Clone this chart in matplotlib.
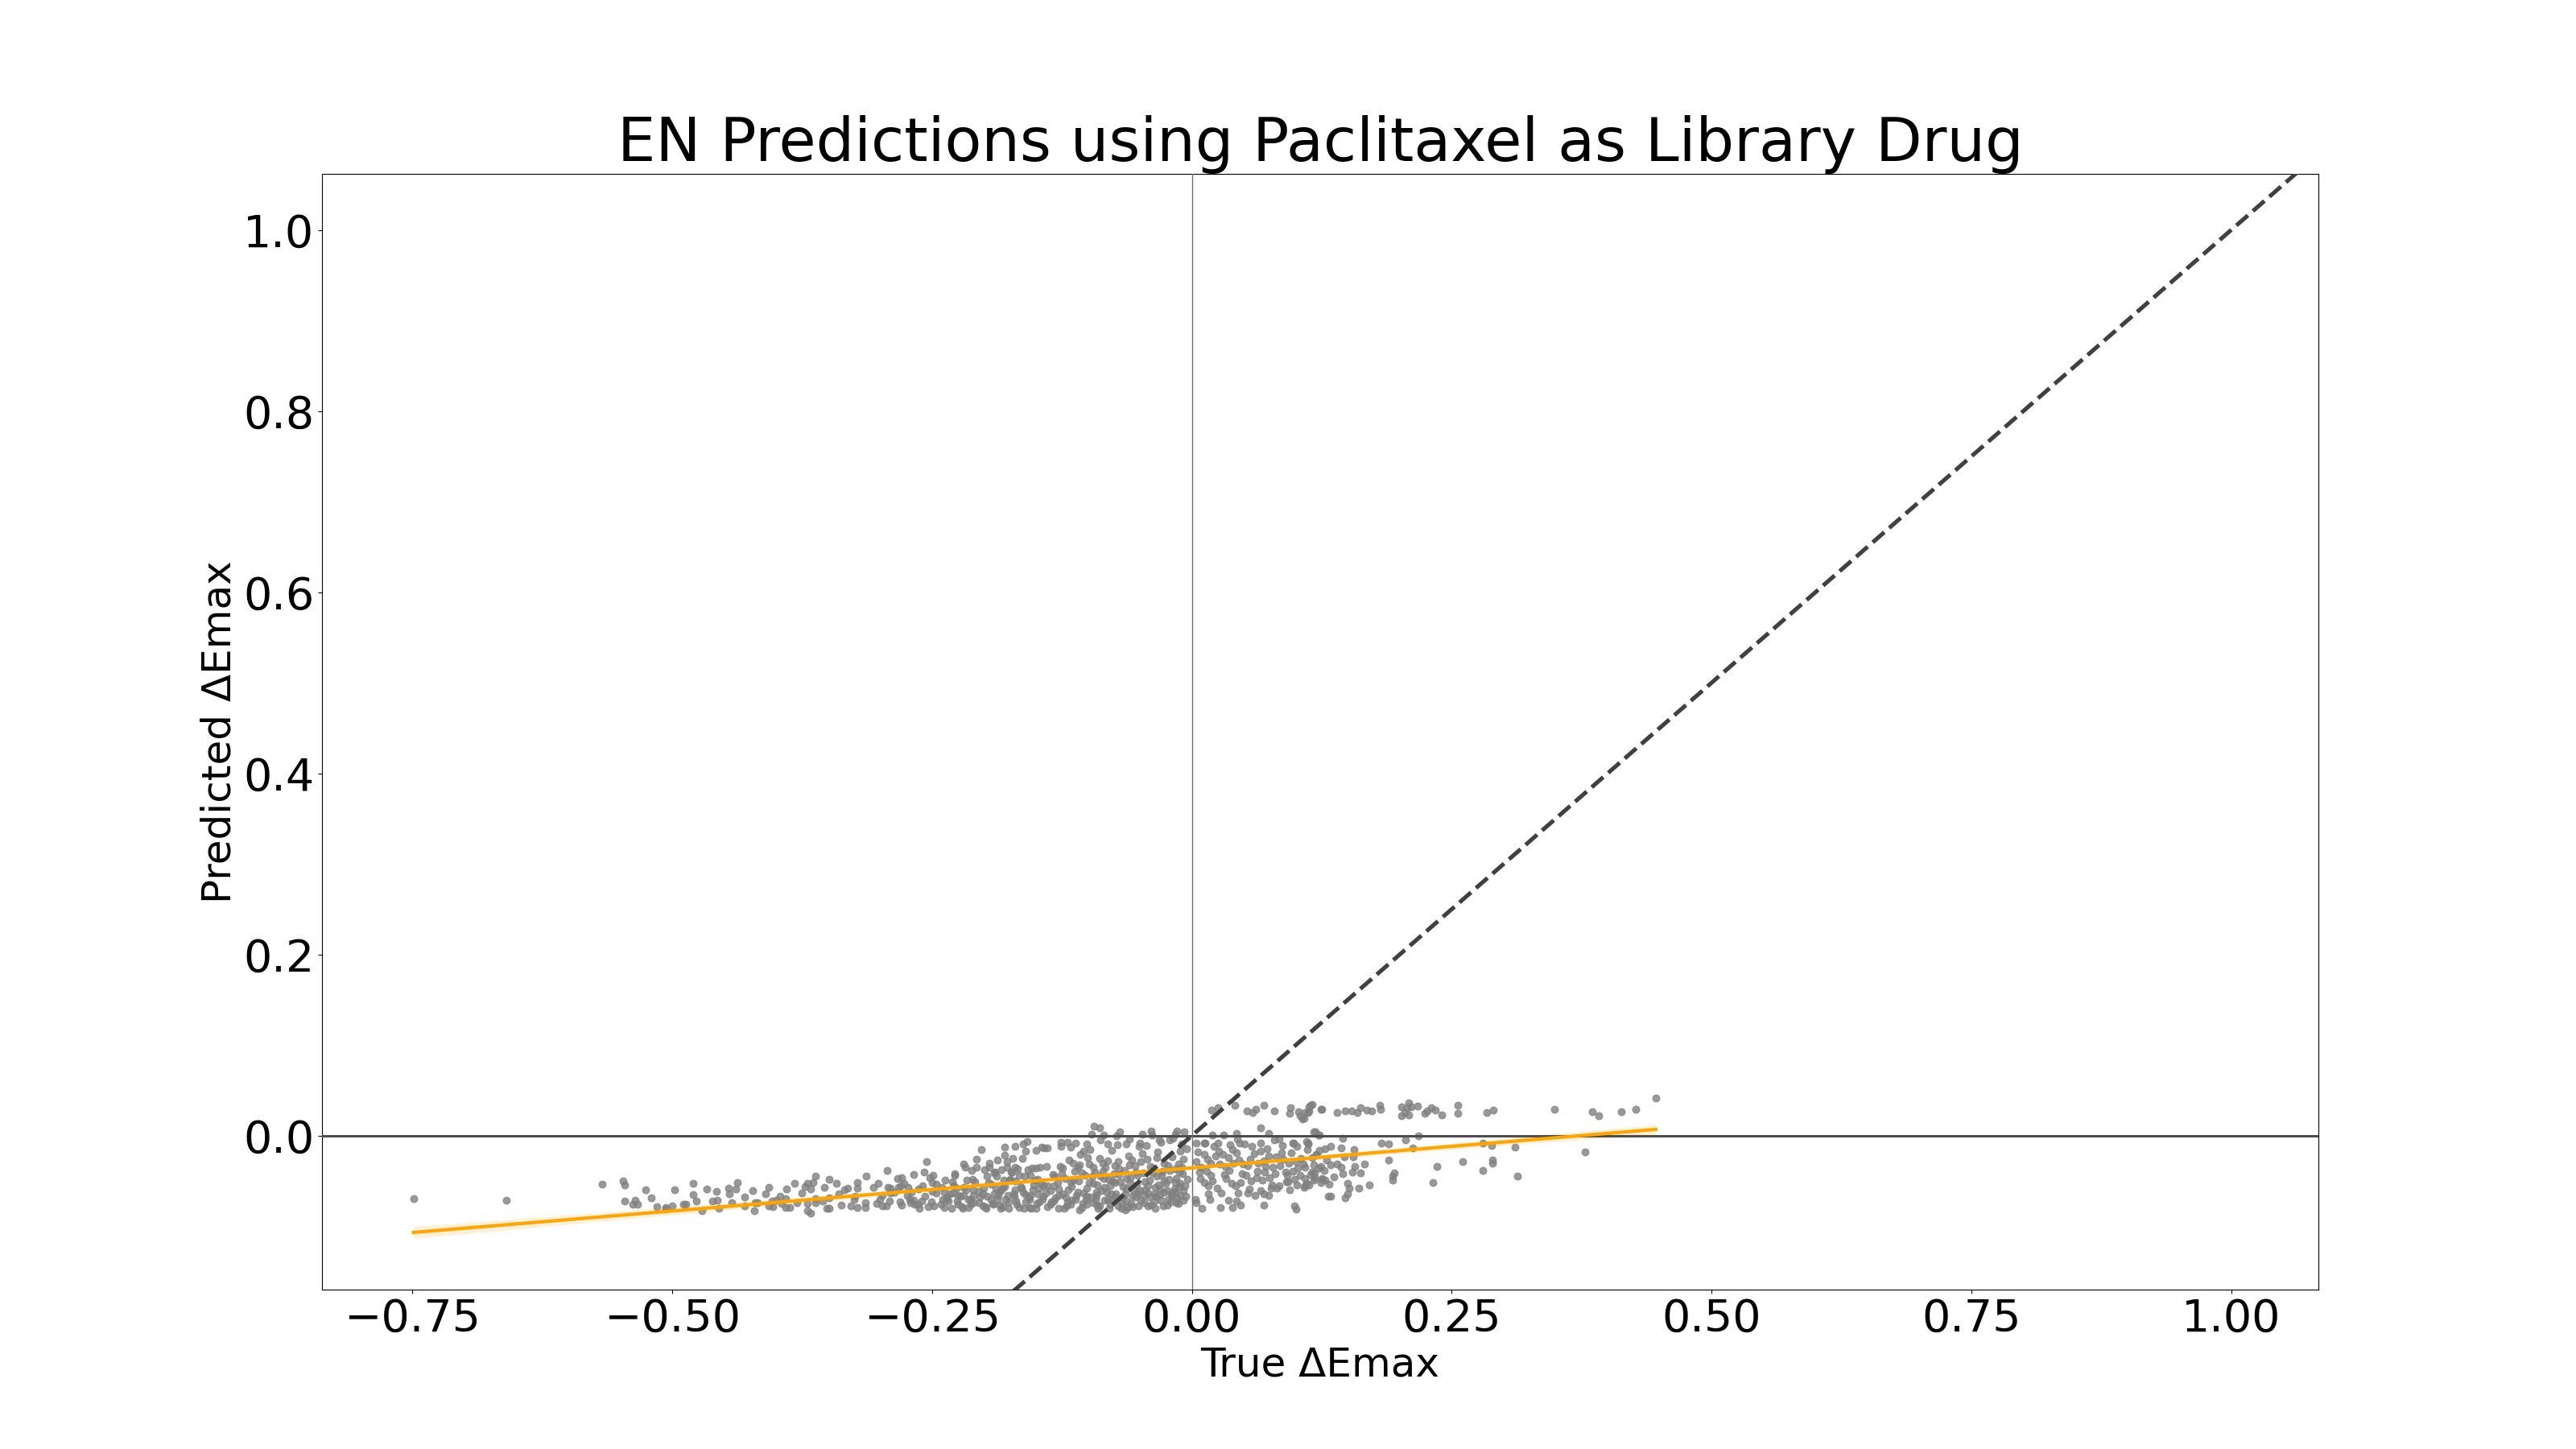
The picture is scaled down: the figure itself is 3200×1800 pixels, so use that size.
import numpy as np
import matplotlib
matplotlib.use("Agg")
import matplotlib.pyplot as plt

# ---------------- data (True ΔEmax, Predicted ΔEmax) ----------------
left_tail = [
    (-0.749, -0.0696), (-0.660, -0.0714), (-0.5675, -0.0536), (-0.5475, -0.0498),
    (-0.546, -0.0548), (-0.546, -0.0726), (-0.538, -0.0756), (-0.5354, -0.0717),
    (-0.533, -0.0762), (-0.5257, -0.0598), (-0.5146, -0.0788), (-0.5063, -0.0797),
    (-0.506, -0.0815), (-0.500, -0.0776), (-0.4977, -0.0598), (-0.489, -0.0756),
    (-0.487, -0.0762), (-0.480, -0.0524), (-0.477, -0.0726), (-0.4717, -0.0830),
    (-0.4665, -0.0590), (-0.461, -0.0726), (-0.4575, -0.0619), (-0.457, -0.0711),
    (-0.446, -0.0576), (-0.445, -0.0643), (-0.443, -0.0738), (-0.439, -0.0593),
    (-0.437, -0.0516), (-0.430, -0.0779), (-0.4226, -0.0607), (-0.421, -0.0830),
    (-0.420, -0.0738), (-0.418, -0.0738), (-0.407, -0.0573), (-0.407, -0.0779),
    (-0.4043, -0.0726), (-0.403, -0.0785), (-0.400, -0.0717), (-0.396, -0.0667),
    (-0.391, -0.0696), (-0.391, -0.0794), (-0.390, -0.0590), (-0.387, -0.0794),
    (-0.3826, -0.0524), (-0.380, -0.0738), (-0.3722, -0.0564), (-0.370, -0.0530),
    (-0.370, -0.0753), (-0.370, -0.0830), (-0.367, -0.0856), (-0.367, -0.0593),
    (-0.3645, -0.0516), (-0.3625, -0.0445), (-0.362, -0.0696), (-0.362, -0.0738),
    (-0.354, -0.0573), (-0.3514, -0.0806), (-0.349, -0.0481), (-0.349, -0.0806),
    (-0.349, -0.0690), (-0.342, -0.0524), (-0.337, -0.0767), (-0.334, -0.0598),
    (-0.331, -0.0578), (-0.328, -0.0773), (-0.324, -0.0667), (-0.322, -0.0516),
    (-0.322, -0.0584), (-0.322, -0.0797), (-0.314, -0.0741), (-0.314, -0.0797),
    (-0.313, -0.0445),
    (-0.520, -0.0690), (-0.480, -0.0650), (-0.455, -0.0800), (-0.430, -0.0680),
    (-0.410, -0.0640), (-0.395, -0.0750), (-0.375, -0.0630), (-0.355, -0.0720),
    (-0.340, -0.0640), (-0.325, -0.0700),
]

mid_band = [
    (-0.3067, -0.0569), (-0.3034, -0.0747), (-0.3016, -0.0524), (-0.3003, -0.0702),
    (-0.2977, -0.0776), (-0.2939, -0.0776), (-0.2933, -0.0382), (-0.2926, -0.0569),
    (-0.2900, -0.0584), (-0.2835, -0.0471), (-0.2822, -0.0569), (-0.2810, -0.0732),
    (-0.2796, -0.0465), (-0.2770, -0.0524), (-0.2732, -0.0569), (-0.2719, -0.0702),
    (-0.2706, -0.0738), (-0.2675, -0.0427), (-0.2667, -0.0762), (-0.2641, -0.0762),
    (-0.2628, -0.0590), (-0.2590, -0.0554), (-0.2577, -0.0406), (-0.2551, -0.0287),
    (-0.2538, -0.0785), (-0.2525, -0.0465), (-0.2500, -0.0613), (-0.2492, -0.0436),
    (-0.2486, -0.0776), (-0.2460, -0.0539), (-0.2409, -0.0569), (-0.2383, -0.0791),
    (-0.2371, -0.0495), (-0.2357, -0.0702), (-0.2332, -0.0643), (-0.2306, -0.0510),
    (-0.2280, -0.0436), (-0.2267, -0.0584), (-0.2254, -0.0762), (-0.2229, -0.0673),
    (-0.2203, -0.0806), (-0.2198, -0.0317), (-0.2183, -0.0347), (-0.2164, -0.0495),
    (-0.2151, -0.0702), (-0.2126, -0.0762), (-0.2113, -0.0480), (-0.2100, -0.0599),
    (-0.2074, -0.0258), (-0.2074, -0.0347), (-0.2049, -0.0613), (-0.2023, -0.0154),
    (-0.2010, -0.0776), (-0.1997, -0.0376), (-0.1972, -0.0673), (-0.1946, -0.0347),
    (-0.1933, -0.0539), (-0.1907, -0.0762), (-0.1894, -0.0406), (-0.1882, -0.0450),
    (-0.1869, -0.0273), (-0.1856, -0.0628), (-0.1843, -0.0806), (-0.1830, -0.0376),
    (-0.1817, -0.0569), (-0.1804, -0.0213), (-0.1799, -0.0124), (-0.1792, -0.0702),
    (-0.1779, -0.0347), (-0.1766, -0.0806), (-0.1753, -0.0495), (-0.1740, -0.0406),
    (-0.1727, -0.0252), (-0.1715, -0.0643), (-0.1702, -0.0347), (-0.1697, -0.0115),
    (-0.1689, -0.0762), (-0.1663, -0.0436), (-0.1638, -0.0584), (-0.1625, -0.0095),
    (-0.1612, -0.0806), (-0.1599, -0.0175), (-0.1587, -0.0065), (-0.1574, -0.0376),
    (-0.1561, -0.0702), (-0.1548, -0.0806), (-0.1535, -0.0361), (-0.1509, -0.0495),
    (-0.1496, -0.0164), (-0.1483, -0.0643), (-0.1470, -0.0732), (-0.1458, -0.0347),
    (-0.1445, -0.0124), (-0.1432, -0.0554), (-0.1419, -0.0139),
]

mid_dense = [
    (-0.238, -0.062), (-0.234, -0.072), (-0.229, -0.055), (-0.225, -0.066),
    (-0.221, -0.078), (-0.217, -0.060), (-0.213, -0.070), (-0.209, -0.051),
    (-0.205, -0.074), (-0.201, -0.064), (-0.197, -0.045), (-0.193, -0.070),
    (-0.189, -0.058), (-0.185, -0.077), (-0.181, -0.049), (-0.177, -0.066),
    (-0.173, -0.040), (-0.169, -0.072), (-0.165, -0.056), (-0.161, -0.045),
    (-0.157, -0.068), (-0.153, -0.060), (-0.149, -0.075), (-0.145, -0.052),
    (-0.141, -0.063), (-0.228, -0.042), (-0.212, -0.038), (-0.195, -0.030),
    (-0.178, -0.029), (-0.163, -0.025), (-0.150, -0.036), (-0.186, -0.066),
    (-0.170, -0.060), (-0.156, -0.079), (-0.199, -0.078),
    (-0.290, -0.063), (-0.280, -0.055), (-0.270, -0.062), (-0.260, -0.072),
    (-0.250, -0.052), (-0.240, -0.070), (-0.230, -0.063), (-0.220, -0.057),
    (-0.210, -0.066), (-0.200, -0.058), (-0.190, -0.064), (-0.180, -0.056),
    (-0.170, -0.050), (-0.160, -0.065), (-0.152, -0.054),
]

core_floor = [
    (-0.298, -0.066), (-0.291, -0.072), (-0.286, -0.062), (-0.279, -0.077),
    (-0.274, -0.066), (-0.268, -0.071), (-0.262, -0.080), (-0.257, -0.067),
    (-0.251, -0.073), (-0.246, -0.063), (-0.241, -0.076), (-0.236, -0.068),
    (-0.231, -0.080), (-0.226, -0.072), (-0.220, -0.066), (-0.215, -0.079),
    (-0.210, -0.074), (-0.204, -0.068), (-0.198, -0.080), (-0.192, -0.075),
    (-0.187, -0.070), (-0.182, -0.078), (-0.176, -0.073), (-0.171, -0.067),
    (-0.166, -0.079), (-0.160, -0.073), (-0.155, -0.066), (-0.150, -0.080),
    (-0.144, -0.070), (-0.139, -0.078), (-0.133, -0.072), (-0.128, -0.066),
    (-0.123, -0.080), (-0.117, -0.076), (-0.112, -0.070), (-0.106, -0.079),
    (-0.101, -0.067), (-0.095, -0.074), (-0.090, -0.080), (-0.084, -0.071),
    (-0.079, -0.076), (-0.074, -0.068), (-0.068, -0.080), (-0.063, -0.072),
    (-0.057, -0.078), (-0.052, -0.063), (-0.046, -0.074), (-0.041, -0.068),
    (-0.035, -0.080), (-0.030, -0.071), (-0.024, -0.077), (-0.019, -0.066),
    (-0.013, -0.075), (-0.008, -0.071),
]

core_mid = [
    (-0.196, -0.052), (-0.190, -0.041), (-0.183, -0.060), (-0.175, -0.048),
    (-0.168, -0.037), (-0.162, -0.062), (-0.155, -0.044), (-0.147, -0.058),
    (-0.140, -0.034), (-0.133, -0.055), (-0.125, -0.042), (-0.119, -0.060),
    (-0.114, -0.049), (-0.108, -0.032), (-0.104, -0.063), (-0.096, -0.045),
    (-0.091, -0.054), (-0.086, -0.039), (-0.082, -0.062), (-0.076, -0.050),
    (-0.070, -0.043), (-0.064, -0.064), (-0.059, -0.053), (-0.054, -0.040),
    (-0.050, -0.061), (-0.045, -0.051), (-0.040, -0.034), (-0.036, -0.064),
    (-0.032, -0.054), (-0.028, -0.039), (-0.022, -0.048), (-0.016, -0.037),
    (-0.012, -0.056),
    (-0.148, -0.048), (-0.143, -0.067), (-0.139, -0.055), (-0.135, -0.073),
    (-0.132, -0.045), (-0.128, -0.059), (-0.124, -0.036), (-0.121, -0.068),
    (-0.117, -0.051), (-0.114, -0.030), (-0.110, -0.062), (-0.106, -0.041),
    (-0.102, -0.070), (-0.099, -0.052), (-0.095, -0.035), (-0.092, -0.066),
    (-0.088, -0.045), (-0.084, -0.057), (-0.081, -0.028), (-0.078, -0.064),
    (-0.074, -0.052), (-0.070, -0.037), (-0.067, -0.068), (-0.063, -0.047),
    (-0.060, -0.032), (-0.056, -0.061), (-0.052, -0.044), (-0.049, -0.029),
    (-0.046, -0.066), (-0.042, -0.055), (-0.038, -0.041), (-0.034, -0.024),
    (-0.031, -0.059), (-0.027, -0.050), (-0.023, -0.033), (-0.020, -0.064),
    (-0.016, -0.052), (-0.012, -0.040), (-0.008, -0.061), (-0.004, -0.048),
]

core_left = [
    (-0.0943, 0.0104), (-0.0886, 0.0089), (-0.0964, 0.0015), (-0.0847, 0.0003),
    (-0.1260, -0.0074), (-0.1195, -0.0074), (-0.1170, -0.0124), (-0.1389, -0.0133),
    (-0.1015, -0.0095), (-0.1041, -0.0169), (-0.0692, 0.0039), (-0.0726, 0.0000),
    (-0.0478, 0.0015), (-0.0395, 0.0053), (-0.0382, 0.0009), (-0.0142, 0.0053),
    (-0.0072, 0.0039), (-0.0163, 0.0015), (-0.0214, -0.0044), (-0.0499, -0.0080),
    (-0.0628, -0.0095), (-0.0808, -0.0095), (-0.0318, -0.0050), (-0.0059, -0.0667),
    (-0.1363, -0.0762), (-0.1286, -0.0806), (-0.1208, -0.0776), (-0.1157, -0.0717),
    (-0.1080, -0.0821), (-0.1015, -0.0762), (-0.0924, -0.0702), (-0.0886, -0.0776),
    (-0.0795, -0.0806), (-0.0770, -0.0702), (-0.0706, -0.0776), (-0.0640, -0.0821),
    (-0.0589, -0.0747), (-0.0512, -0.0776), (-0.0422, -0.0776), (-0.0344, -0.0673),
    (-0.0279, -0.0776), (-0.0202, -0.0732), (-0.0150, -0.0738), (-0.0266, -0.0628),
    (-0.0163, -0.0613), (-0.0111, -0.0525), (-0.0098, -0.0347), (-0.0085, -0.0258),
    (-0.0111, -0.0169), (-0.0098, -0.0095),
]

core_left_dense = [
    (-0.136, -0.061), (-0.134, -0.043), (-0.131, -0.069), (-0.129, -0.052),
    (-0.127, -0.034), (-0.124, -0.064), (-0.122, -0.047), (-0.120, -0.073),
    (-0.118, -0.027), (-0.116, -0.056), (-0.113, -0.039), (-0.111, -0.066),
    (-0.109, -0.050), (-0.107, -0.021), (-0.105, -0.075), (-0.103, -0.044),
    (-0.101, -0.058), (-0.099, -0.031), (-0.097, -0.068), (-0.095, -0.053),
    (-0.093, -0.040), (-0.091, -0.077), (-0.089, -0.025), (-0.087, -0.061),
    (-0.085, -0.047), (-0.083, -0.035), (-0.081, -0.070), (-0.079, -0.055),
    (-0.077, -0.016), (-0.075, -0.042), (-0.073, -0.064), (-0.071, -0.029),
    (-0.069, -0.051), (-0.067, -0.074), (-0.065, -0.038), (-0.063, -0.059),
    (-0.061, -0.022), (-0.059, -0.046), (-0.057, -0.067), (-0.055, -0.033),
    (-0.053, -0.054), (-0.051, -0.012), (-0.049, -0.071), (-0.047, -0.041),
    (-0.045, -0.060), (-0.043, -0.026), (-0.041, -0.049), (-0.039, -0.077),
    (-0.037, -0.036), (-0.035, -0.057), (-0.033, -0.018), (-0.031, -0.065),
    (-0.029, -0.044), (-0.027, -0.030), (-0.025, -0.053), (-0.023, -0.070),
    (-0.021, -0.038), (-0.019, -0.023), (-0.017, -0.059), (-0.015, -0.047),
    (-0.013, -0.031), (-0.011, -0.066), (-0.009, -0.042), (-0.007, -0.055),
    (-0.005, -0.014), (-0.126, -0.012), (-0.112, -0.008), (-0.098, -0.015),
    (-0.088, -0.005), (-0.072, -0.010), (-0.060, -0.004), (-0.044, -0.011),
    (-0.030, -0.007), (-0.018, -0.003), (-0.062, -0.079), (-0.092, -0.062),
    (-0.080, -0.048), (-0.066, -0.056), (-0.054, -0.068), (-0.042, -0.063),
    (-0.036, -0.072), (-0.024, -0.061), (-0.014, -0.069), (-0.110, -0.035),
    (-0.100, -0.024), (-0.086, -0.030), (-0.074, -0.033), (-0.058, -0.027),
    (-0.048, -0.020), (-0.034, -0.045),
]

core_right = [
    (0.0191, 0.0282), (0.0251, 0.0311), (0.0414, 0.0335), (0.0529, 0.0270),
    (0.0586, 0.0255), (0.0617, 0.0290), (0.0695, 0.0335), (0.0797, 0.0270),
    (0.0940, 0.0246), (0.0947, 0.0305), (0.1029, 0.0261), (0.1045, 0.0222),
    (0.1063, 0.0187), (0.1123, 0.0275), (0.1141, 0.0335), (0.1243, 0.0290),
    (0.0199, 0.0009), (0.0303, 0.0009), (0.0432, 0.0024), (0.0665, 0.0083),
    (0.0742, 0.0024), (0.0840, -0.0041), (0.1175, 0.0039), (0.1221, 0.0003),
    (0.0044, -0.0080), (0.0121, -0.0080), (0.0251, -0.0080), (0.0457, -0.0080),
    (0.0665, -0.0080), (0.0975, -0.0080), (0.1116, -0.0080),
    (0.0031, -0.0702), (0.0044, -0.0738), (0.0096, -0.0806), (0.0160, -0.0643),
    (0.0173, -0.0702), (0.0277, -0.0797), (0.0354, -0.0717), (0.0393, -0.0791),
    (0.0432, -0.0726), (0.0445, -0.0637), (0.0471, -0.0767), (0.0540, -0.0637),
    (0.0695, -0.0767), (0.0690, -0.0643), (0.0742, -0.0658), (0.0763, -0.0584),
    (0.0819, -0.0578), (0.0927, -0.0510), (0.0987, -0.0776), (0.0999, -0.0815),
    (0.1012, -0.0548), (0.1090, -0.0554), (0.1175, -0.0495), (0.1252, -0.0471),
    (0.1309, -0.0673),
]

core_right_dense = [
    (0.006, -0.018), (0.009, -0.035), (0.012, -0.052), (0.015, -0.026),
    (0.018, -0.044), (0.021, -0.012), (0.024, -0.058), (0.027, -0.031),
    (0.030, -0.021), (0.033, -0.047), (0.036, -0.038), (0.039, -0.015),
    (0.042, -0.055), (0.045, -0.027), (0.048, -0.042), (0.051, -0.009),
    (0.054, -0.033), (0.057, -0.050), (0.060, -0.020), (0.063, -0.039),
    (0.066, -0.061), (0.069, -0.028), (0.072, -0.014), (0.075, -0.046),
    (0.078, -0.035), (0.081, -0.023), (0.084, -0.055), (0.087, -0.011),
    (0.090, -0.040), (0.093, -0.030), (0.096, -0.019), (0.099, -0.048),
    (0.102, -0.036), (0.105, -0.025), (0.108, -0.057), (0.111, -0.015),
    (0.114, -0.043), (0.117, -0.032), (0.120, -0.021), (0.124, -0.052),
    (0.127, -0.038), (0.130, -0.027), (0.013, -0.008), (0.028, -0.063),
    (0.044, -0.004), (0.061, -0.066), (0.079, -0.005), (0.094, -0.060),
    (0.110, -0.006), (0.018, -0.030), (0.035, -0.024), (0.052, -0.044),
    (0.070, -0.040), (0.088, -0.026), (0.104, -0.044),
    (0.004, -0.029), (0.008, -0.047), (0.014, -0.039), (0.020, -0.050),
    (0.026, -0.017), (0.032, -0.034), (0.038, -0.053), (0.043, -0.019),
    (0.049, -0.031), (0.055, -0.059), (0.058, -0.012), (0.064, -0.030),
    (0.068, -0.049), (0.074, -0.022), (0.080, -0.042), (0.085, -0.033),
    (0.091, -0.051), (0.097, -0.039), (0.101, -0.012), (0.107, -0.031),
    (0.113, -0.054), (0.118, -0.041), (0.123, -0.016), (0.128, -0.049),
    (0.007, -0.040), (0.016, -0.055), (0.023, -0.022), (0.031, -0.043),
    (0.040, -0.030), (0.047, -0.052), (0.056, -0.026), (0.062, -0.046),
    (0.071, -0.034), (0.077, -0.054), (0.086, -0.019), (0.092, -0.044),
    (0.100, -0.029), (0.109, -0.047), (0.116, -0.024), (0.122, -0.036),
    (0.012, -0.021), (0.037, -0.010), (0.066, -0.017), (0.098, -0.008),
]

right_tail = [
    (0.1090, 0.0260), (0.1128, 0.0319), (0.1154, 0.0348), (0.1115, 0.0260),
    (0.1077, 0.0193), (0.1250, 0.0290), (0.1394, 0.0255), (0.1472, 0.0275),
    (0.1536, 0.0275), (0.1593, 0.0255), (0.1626, 0.0311), (0.1688, 0.0281),
    (0.1730, 0.0275), (0.1807, 0.0335), (0.1818, 0.0290), (0.2019, 0.0320),
    (0.2014, 0.0222), (0.2045, 0.0260), (0.2084, 0.0358), (0.2071, 0.0305),
    (0.2110, 0.0320), (0.2084, 0.0231), (0.2174, 0.0329), (0.2239, 0.0246),
    (0.2269, 0.0270), (0.2303, 0.0311), (0.2342, 0.0281), (0.2406, 0.0231),
    (0.2556, 0.0335), (0.2556, 0.0246), (0.2837, 0.0260), (0.2897, 0.0284),
    (0.3486, 0.0290), (0.3850, 0.0267), (0.3916, 0.0222), (0.4129, 0.0267),
    (0.4271, 0.0290), (0.4464, 0.0415),
    (0.1185, 0.0039), (0.1226, 0.0009), (0.1451, -0.0026), (0.1115, -0.0089),
    (0.1826, -0.0080), (0.1890, -0.0089), (0.2053, -0.0044), (0.2179, 0.0000),
    (0.2122, -0.0133), (0.2799, -0.0080), (0.2884, -0.0110), (0.3109, -0.0127),
    (0.3786, -0.0178),
    (0.1890, -0.0267), (0.2362, -0.0341), (0.2605, -0.0288), (0.2799, -0.0385),
    (0.2892, -0.0273), (0.2892, -0.0302), (0.3129, -0.0444), (0.2318, -0.0515),
    (0.1929, -0.0450), (0.1950, -0.0415), (0.1929, -0.0495), (0.1707, -0.0545),
    (0.1606, -0.0578), (0.1663, -0.0317), (0.1619, -0.0412), (0.1567, -0.0341),
    (0.1554, -0.0234), (0.1560, -0.0154), (0.1438, -0.0133), (0.1335, -0.0115),
    (0.1283, -0.0145), (0.1335, -0.0323), (0.1399, -0.0317), (0.1438, -0.0347),
    (0.1464, -0.0234), (0.1541, -0.0406), (0.1502, -0.0525), (0.1515, -0.0578),
    (0.1335, -0.0667), (0.1472, -0.0688), (0.1498, -0.0643), (0.1366, -0.0459),
    (0.1322, -0.0539), (0.1258, -0.0480), (0.1193, -0.0213), (0.1245, -0.0341),
    (0.1181, -0.0465), (0.1102, -0.0525), (0.1090, -0.0347), (0.1154, -0.0406),
    (0.1451, -0.0421),
]

title = "EN Predictions using Paclitaxel as Library Drug"
xlabel = "True ΔEmax"
ylabel = "Predicted ΔEmax"
xticks = [-0.75, -0.50, -0.25, 0.00, 0.25, 0.50, 0.75, 1.00]
yticks = [0.0, 0.2, 0.4, 0.6, 0.8, 1.0]
xlim = (-0.837, 1.084)
ylim = (-0.170, 1.062)

# ---------------- assemble ----------------
pts = np.array(left_tail + mid_band + mid_dense + core_floor + core_mid
               + core_left + core_left_dense + core_right + core_right_dense
               + right_tail)
x = pts[:, 0]
y = pts[:, 1]

fig = plt.figure(figsize=(32, 18), dpi=100)
ax = fig.add_subplot(111)

ax.scatter(x, y, s=40, color="gray", alpha=0.8, linewidths=0.8, zorder=2)

# linear fit with 95% confidence band
slope, intercept = np.polyfit(x, y, 1)
grid = np.linspace(x.min(), x.max(), 100)
yhat = slope * grid + intercept
n = len(x)
resid = y - (slope * x + intercept)
s_err = np.sqrt(np.sum(resid ** 2) / (n - 2))
sxx = np.sum((x - x.mean()) ** 2)
ci = 1.96 * s_err * np.sqrt(1.0 / n + (grid - x.mean()) ** 2 / sxx)
ax.fill_between(grid, yhat - ci, yhat + ci, color="orange", alpha=0.15,
                linewidth=0, zorder=3)
ax.plot(grid, yhat, color="orange", lw=3, zorder=4)

ax.axhline(0, color="#4d4d4d", lw=2.2, zorder=3)
ax.axvline(0, color="#6e6e6e", lw=1.0, zorder=3)
ax.plot([-1.5, 1.5], [-1.5, 1.5], ls="--", color="#404040", lw=3.7, zorder=5)

ax.set_xlim(*xlim)
ax.set_ylim(*ylim)
ax.set_xticks(xticks)
ax.set_yticks(yticks)
ax.tick_params(axis="both", labelsize=40)
ax.set_title(title, fontsize=54)
ax.set_xlabel(xlabel, fontsize=36)
ax.set_ylabel(ylabel, fontsize=36)

fig.savefig("out.png", dpi=100)
